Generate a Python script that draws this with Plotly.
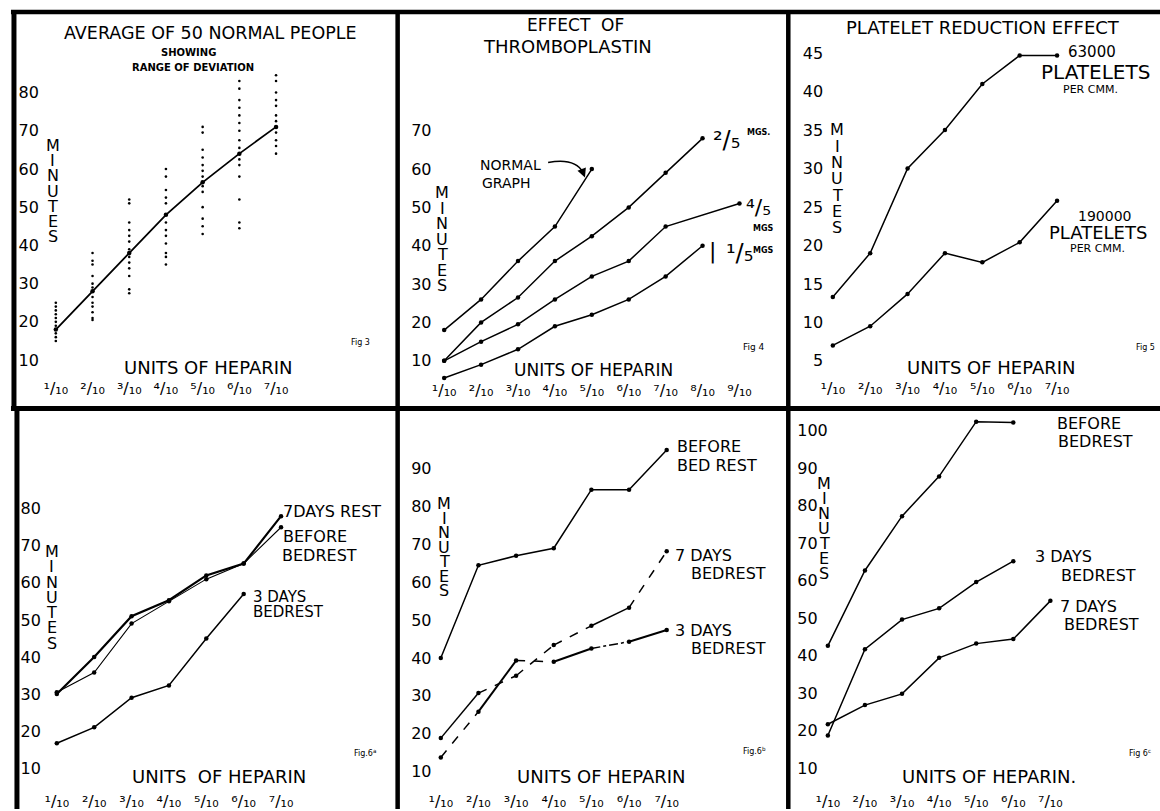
import plotly.graph_objects as go

W, H = 1160, 811
FONT = "DejaVu Sans"

# ---------------- data ----------------
units = [1, 2, 3, 4, 5, 6, 7, 8, 9]
SUP = "⁰¹²³⁴⁵⁶⁷⁸⁹"
unit_ticks = [SUP[i] + "/₁₀" for i in units]

# Fig 3 - average of 50 normal people, with range of deviation
f3_mean = [18, 28, 38, 48, 56.5, 64, 71]
f3_dev_1 = [25, 24, 23, 22, 21, 20, 19, 18, 17, 16, 15]
f3_dev_2 = [38, 36, 35, 32, 30, 29, 28, 26.5, 25, 24, 22.5, 21, 20.5]
f3_dev_3 = [52, 51, 46, 44, 42.5, 41, 39, 37, 35.5, 34, 32, 28.5, 27.5]
f3_dev_4 = [60, 58, 54.5, 52.5, 51, 46, 44, 42.5, 40.5, 38, 37, 35]
f3_dev_5 = [71, 69.5, 65, 63, 61, 59.5, 58, 55.5, 54, 50, 47, 45, 43]
f3_dev_6 = [83, 81, 78, 76, 74, 72, 70, 67.5, 65.5, 62.5, 61, 58, 52, 46, 44.5]
f3_dev_7 = [84.5, 83, 80, 78, 76.5, 74, 72.5, 69.5, 67.5, 66, 64]
f3_yticks = [10, 20, 30, 40, 50, 60, 70, 80]

# Fig 4 - effect of thromboplastin
f4_normal = [18, 26, 36, 45, 60]
f4_two_fifths = [10, 20, 26.5, 36, 42.5, 50, 59, 68]
f4_four_fifths_units = [1, 2, 3, 4, 5, 6, 7, 9]
f4_four_fifths = [10, 15, 19.5, 26, 32, 36, 45, 51]
f4_one_fifth = [5.5, 9, 13, 19, 22, 26, 32, 40]
f4_yticks = [10, 20, 30, 40, 50, 60, 70]

# Fig 5 - platelet reduction effect
f5_63000 = [13.3, 19, 30, 35, 41, 44.7, 44.7]
f5_190000 = [7, 9.5, 13.7, 19, 17.8, 20.4, 25.8]
f5_yticks = [5, 10, 15, 20, 25, 30, 35, 40, 45]

# Fig 6a
f6a_7days = [30, 40, 51, 55.3, 62, 65.2, 78]
f6a_before = [30.5, 35.8, 49, 55, 61, 65.2, 75]
f6a_3days = [16.7, 21, 29, 32.3, 45, 57]
f6a_yticks = [10, 20, 30, 40, 50, 60, 70, 80]

# Fig 6b
f6b_before = [40, 64.5, 67, 69, 84.5, 84.5, 95]
f6b_7days = [18.8, 30.7, 35.3, 43.4, 48.5, 53.3, 68.2]
f6b_3days = [13.7, 25.8, 39.3, 39, 42.5, 44.3, 47.4]
f6b_yticks = [10, 20, 30, 40, 50, 60, 70, 80, 90]

# Fig 6c
f6c_before = [42.6, 62.7, 77.2, 87.8, 102.4, 102.2]
f6c_3days = [18.7, 41.7, 49.6, 52.6, 59.6, 65.2]
f6c_7days = [21.7, 26.8, 29.8, 39.4, 43.2, 44.4, 54.6]
f6c_yticks = [10, 20, 30, 40, 50, 60, 70, 80, 90, 100]

# ---------------- geometry (pixels) ----------------
PANELS = [
    dict(box=(36, 60, 392, 378), xc=((1, 52), (7, 273)), yc=((10, 361), (80, 92.7)), nx=7, yt=f3_yticks, inside=False),
    dict(box=(430, 60, 785, 380), xc=((1, 441.7), (9, 738)), yc=((10, 361.7), (70, 131)), nx=9, yt=f4_yticks, inside=False),
    dict(box=(823, 40, 1160, 378), xc=((1, 831.7), (7, 1056.7)), yc=((5, 361.7), (45, 53.3)), nx=7, yt=f5_yticks, inside=False),
    dict(box=(38, 420, 392, 792), xc=((1, 53), (7, 278)), yc=((10, 770), (80, 510)), nx=7, yt=f6a_yticks, inside=False),
    dict(box=(430, 420, 785, 792), xc=((1, 438.3), (7, 665)), yc=((10, 773.3), (90, 470)), nx=7, yt=f6b_yticks, inside=False),
    dict(box=(793, 415, 1160, 792), xc=((1, 826.7), (7, 1050)), yc=((10, 770), (100, 431.7)), nx=7, yt=f6c_yticks, inside=True),
]


def lin(c, p):
    (v1, p1), (v2, p2) = c
    return v1 + (p - p1) * (v2 - v1) / (p2 - p1)


def px(x):
    return x / W


def py(y):
    return 1 - y / H


fig = go.Figure()
layout = dict(
    width=W, height=H, margin=dict(l=0, r=0, t=0, b=0),
    paper_bgcolor="white", plot_bgcolor="white", showlegend=False,
    font=dict(family=FONT, color="black"),
)

for i, p in enumerate(PANELS):
    k = "" if i == 0 else str(i + 1)
    l, t, r, b = p["box"]
    layout["xaxis" + k] = dict(
        domain=[px(l), px(r)], range=[lin(p["xc"], l), lin(p["xc"], r)],
        anchor="y" + k, showgrid=False, zeroline=False, showline=False, ticks="",
        tickmode="array", tickvals=units[:p["nx"]], ticktext=unit_ticks[:p["nx"]],
        tickfont=dict(size=16, family=FONT, color="black"),
    )
    layout["yaxis" + k] = dict(
        domain=[py(b), py(t)], range=[lin(p["yc"], b), lin(p["yc"], t)],
        anchor="x" + k, showgrid=False, zeroline=False, showline=False, ticks="",
        tickmode="array", tickvals=p["yt"], ticktext=[str(v) for v in p["yt"]],
        tickfont=dict(size=16, family=FONT, color="black"),
        ticklabelposition="inside" if p["inside"] else "outside",
    )


def line(n, xs, ys, width=1.5, dash="solid", markers=True):
    k = "" if n == 1 else str(n)
    fig.add_trace(go.Scatter(
        x=xs, y=ys, xaxis="x" + k, yaxis="y" + k,
        mode="lines+markers" if markers else "lines",
        line=dict(color="black", width=width, dash=dash),
        marker=dict(color="black", size=4.5), cliponaxis=False, hoverinfo="skip"))


def dots(n, xs, ys, size=2.6):
    k = "" if n == 1 else str(n)
    fig.add_trace(go.Scatter(
        x=xs, y=ys, xaxis="x" + k, yaxis="y" + k, mode="markers",
        marker=dict(color="black", size=size), cliponaxis=False, hoverinfo="skip"))


# Fig 3
for j, col in enumerate([f3_dev_1, f3_dev_2, f3_dev_3, f3_dev_4, f3_dev_5, f3_dev_6, f3_dev_7]):
    dots(1, [units[j]] * len(col), col)
line(1, units[:7], f3_mean, width=1.8)

# Fig 4
line(2, units[:5], f4_normal)
line(2, units[:8], f4_two_fifths)
line(2, f4_four_fifths_units, f4_four_fifths)
line(2, units[:8], f4_one_fifth)

# Fig 5
line(3, units[:7], f5_63000)
line(3, units[:7], f5_190000)

# Fig 6a
line(4, units[:7], f6a_before, width=1.1)
line(4, units[:7], f6a_7days, width=2.2)
line(4, units[:6], f6a_3days, width=1.5)

# Fig 6b
line(5, units[:7], f6b_before)
dash_7d = ["solid", "dash", "dash", "dash", "solid", "dash"]
dash_3d = ["dash", "solid", "dash", "solid", "dashdot", "solid"]
for s in range(6):
    line(5, units[s:s + 2], f6b_7days[s:s + 2], dash=dash_7d[s], markers=False)
    line(5, units[s:s + 2], f6b_3days[s:s + 2], dash=dash_3d[s], markers=False,
         width=1.5 if dash_3d[s] != "solid" else 2)
dots(5, units[:7], f6b_7days, size=4.5)
dots(5, units[:7], f6b_3days, size=4.5)

# Fig 6c
line(6, units[:6], f6c_before)
line(6, units[:6], f6c_3days)
line(6, units[:7], f6c_7days)

# ---------------- text ----------------
anns = []


def ann(text, x, y, size=16, xanchor="center", bold=False):
    if bold:
        text = "<b>" + text + "</b>"
    anns.append(dict(text=text, x=px(x), y=py(y), xref="paper", yref="paper",
                     xanchor=xanchor, yanchor="middle", showarrow=False,
                     font=dict(size=size, family=FONT, color="black")))


# stacked "MINUTES" labels: (x, y of first letter, pitch)
for (mx, my, pitch) in [(49, 146, 15.2), (440, 193, 15.6), (836, 130, 16.4),
                        (48, 553, 15.3), (442, 505, 14.5), (823, 485, 15)]:
    for j, ch in enumerate("MINUTES"):
        ann(ch, mx, my + j * pitch, size=16)

# Fig 3
ann("AVERAGE OF 50 NORMAL PEOPLE", 207, 33, 17.5)
ann("SHOWING", 185, 53, 10, bold=True)
ann("RANGE OF DEVIATION", 190, 68, 10, bold=True)
ann("UNITS OF HEPARIN", 205, 368, 18)
ann("Fig 3", 358, 343, 8)

# Fig 4
ann("EFFECT  OF", 573, 25, 17)
ann("THROMBOPLASTIN", 565, 47, 18)
ann("NORMAL", 508, 165, 14)
ann("GRAPH", 504, 183, 14)
ann("²/₅", 725, 140, 24)
ann("MGS.", 757, 133, 8, bold=True)
ann("⁴/₅", 757, 208, 22)
ann("MGS", 762, 229, 8, bold=True)
ann("|", 711, 252, 22)
ann("¹/₅", 738, 254, 24)
ann("MGS", 762, 251, 8, bold=True)
ann("UNITS OF HEPARIN", 592, 371, 17)
ann("Fig 4", 753, 348, 9)

# Fig 5
ann("PLATELET REDUCTION EFFECT", 982, 28, 18)
ann("63000", 1092, 52, 15)
ann("PLATELETS", 1095, 72, 20)
ann("PER CMM.", 1090, 90, 11)
ann("190000", 1104, 217, 14)
ann("PLATELETS", 1098, 233, 18)
ann("PER CMM.", 1097, 249, 11)
ann("UNITS OF HEPARIN", 991, 368, 18)
ann("Fig 5", 1145, 348, 8)

# Fig 6a
ann("7DAYS REST", 329, 513, 16)
ann("BEFORE", 312, 538, 16)
ann("BEDREST", 317, 557, 16)
ann("3 DAYS", 276, 598, 15)
ann("BEDREST", 285, 614, 15)
ann("UNITS  OF HEPARIN", 216, 778, 18)
ann("Fig.6<sup>a</sup>", 362, 755, 8)

# Fig 6b
ann("BEFORE", 707, 448, 16)
ann("BED REST", 715, 467, 16)
ann("7 DAYS", 702, 557, 16)
ann("BEDREST", 727, 575, 16)
ann("3 DAYS", 702, 632, 16)
ann("BEDREST", 727, 650, 16)
ann("UNITS OF HEPARIN", 600, 778, 18)
ann("Fig.6<sup>b</sup>", 753, 753, 8)

# Fig 6c
ann("BEFORE", 1089, 425, 16)
ann("BEDREST", 1095, 443, 16)
ann("3 DAYS", 1063, 558, 16)
ann("BEDREST", 1098, 577, 16)
ann("7 DAYS", 1088, 608, 16)
ann("BEDREST", 1101, 626, 16)
ann("UNITS OF HEPARIN.", 988, 778, 18)
ann("Fig 6<sup>c</sup>", 1140, 755, 8)

# arrow head for "NORMAL GRAPH"
anns.append(dict(text="", x=px(583), y=py(178), xref="paper", yref="paper",
                 ax=-4, ay=-10, showarrow=True, arrowhead=2, arrowsize=1.2,
                 arrowwidth=1.5, arrowcolor="black"))

# ---------------- frame ----------------
shapes = []


def seg(x0, y0, x1, y1, w):
    shapes.append(dict(type="line", xref="paper", yref="paper",
                       x0=px(x0), y0=py(y0), x1=px(x1), y1=py(y1),
                       line=dict(color="black", width=w)))


seg(7, 12, 1160, 12, 4.5)
seg(10, 10, 10, 409, 5)
seg(13, 409, 13, 811, 5)
seg(395, 10, 395, 811, 4.5)
seg(787, 10, 787, 811, 4.5)
seg(7, 409.5, 1160, 409.5, 5)
# curved arrow stem
shapes.append(dict(type="path", xref="paper", yref="paper",
                   path="M %f,%f Q %f,%f %f,%f" % (px(546), py(163), px(573), py(158), px(581), py(173)),
                   line=dict(color="black", width=1.5)))

layout["annotations"] = anns
layout["shapes"] = shapes
fig.update_layout(**layout)
fig.write_html(
    "out.html",
    config={"displayModeBar": False},
    post_script="document.body.style.margin='0';document.body.style.overflow='hidden';",
)
